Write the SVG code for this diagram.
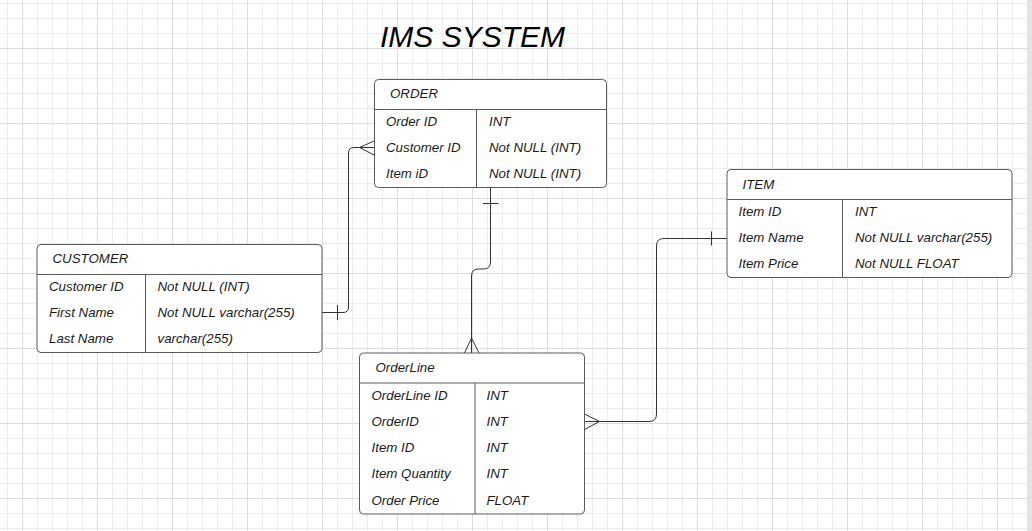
<svg xmlns="http://www.w3.org/2000/svg" width="1032" height="531" viewBox="0 0 1032 531">
  <defs>
    <pattern id="grid" patternUnits="userSpaceOnUse" x="22" y="48" width="75" height="75">
      <rect x="0" y="0" width="75" height="75" fill="#ffffff"/>
      <g fill="#ececec">
        <rect x="15" y="0" width="1" height="75"/>
        <rect x="30" y="0" width="1" height="75"/>
        <rect x="45" y="0" width="1" height="75"/>
        <rect x="60" y="0" width="1" height="75"/>
        <rect x="0" y="15" width="75" height="1"/>
        <rect x="0" y="30" width="75" height="1"/>
        <rect x="0" y="45" width="75" height="1"/>
        <rect x="0" y="60" width="75" height="1"/>
      </g>
      <g fill="#dddddd">
        <rect x="0" y="0" width="1" height="75"/>
        <rect x="0" y="0" width="75" height="1"/>
      </g>
    </pattern>
  </defs>
  <style>
    .box { fill: #ffffff; stroke: #5a5a5a; stroke-width: 1; }
    .div { stroke: #5a5a5a; stroke-width: 1; fill: none; }
    .t { font-family: "Liberation Sans", Arial, sans-serif; font-style: italic; font-size: 13.3px; fill: #1a1a1a; }
    .title { font-family: "Liberation Sans", Arial, sans-serif; font-style: italic; font-size: 30px; fill: #000000; }
    .conn { stroke: #333333; stroke-width: 1; fill: none; }
  </style>
  <rect x="0" y="0" width="1032" height="531" fill="url(#grid)"/>
  <rect x="1027" y="0" width="5" height="531" fill="#e4e4e4"/>

  <text class="title" x="380" y="46.5">IMS SYSTEM</text>

  <g id="connectors">
    <!-- ORDER - CUSTOMER -->
    <path class="conn" d="M 322 312.5 H 343 Q 348.5 312.5 348.5 307 V 153 Q 348.5 147.5 354 147.5 H 374.5"/>
    <path class="conn" d="M 374 141 L 359.5 147.5 L 374 155"/>
    <path class="conn" d="M 337.5 305 V 320"/>
    <!-- ORDER - OrderLine -->
    <path class="conn" d="M 490.5 187.5 V 262 Q 490.5 269 483.5 269 H 478.5 Q 471.5 269 471.5 276 V 353"/>
    <path class="conn" d="M 483 203.5 H 498.5"/>
    <path class="conn" d="M 464.5 353 L 471.5 338 L 479 353"/>
    <!-- ITEM - OrderLine -->
    <path class="conn" d="M 727 238.5 H 664 Q 656.5 238.5 656.5 246 V 414 Q 656.5 421.5 649 421.5 H 584.5"/>
    <path class="conn" d="M 711.5 231.5 V 245.5"/>
    <path class="conn" d="M 584.5 414 L 599.5 421.5 L 584.5 429.5"/>
  </g>

  <g id="order">
    <rect class="box" x="374.5" y="79.5" width="232" height="108" rx="4"/>
    <path class="div" d="M 374.5 109.5 H 606.5 M 476.5 109.5 V 187.5"/>
    <text class="t" x="390" y="98">ORDER</text>
    <text class="t" x="386" y="125.5">Order ID</text>
    <text class="t" x="489" y="125.5">INT</text>
    <text class="t" x="386" y="151.5">Customer ID</text>
    <text class="t" x="489" y="151.5">Not NULL (INT)</text>
    <text class="t" x="386" y="177.5">Item iD</text>
    <text class="t" x="489" y="177.5">Not NULL (INT)</text>
  </g>

  <g id="customer">
    <rect class="box" x="37" y="244.5" width="285" height="108" rx="4"/>
    <path class="div" d="M 37 274.5 H 322 M 145.5 274.5 V 352.5"/>
    <text class="t" x="52.5" y="263">CUSTOMER</text>
    <text class="t" x="49" y="290.5">Customer ID</text>
    <text class="t" x="157.5" y="290.5">Not NULL (INT)</text>
    <text class="t" x="49" y="316.5">First Name</text>
    <text class="t" x="157.5" y="316.5">Not NULL varchar(255)</text>
    <text class="t" x="49" y="342.5">Last Name</text>
    <text class="t" x="157.5" y="342.5">varchar(255)</text>
  </g>

  <g id="item">
    <rect class="box" x="727" y="169.5" width="285" height="108" rx="4"/>
    <path class="div" d="M 727 199.5 H 1012 M 842.5 199.5 V 277.5"/>
    <text class="t" x="742.5" y="188.5">ITEM</text>
    <text class="t" x="738.5" y="215.5">Item ID</text>
    <text class="t" x="855" y="215.5">INT</text>
    <text class="t" x="738.5" y="241.5">Item Name</text>
    <text class="t" x="855" y="241.5">Not NULL varchar(255)</text>
    <text class="t" x="738.5" y="267.5">Item Price</text>
    <text class="t" x="855" y="267.5">Not NULL FLOAT</text>
  </g>

  <g id="orderline">
    <rect class="box" x="359.5" y="353" width="225" height="161" rx="4"/>
    <path class="div" d="M 359.5 383 H 584.5 M 475 383 V 514"/>
    <text class="t" x="375.5" y="372">OrderLine</text>
    <text class="t" x="371.5" y="400">OrderLine ID</text>
    <text class="t" x="486.5" y="400">INT</text>
    <text class="t" x="371.5" y="426">OrderID</text>
    <text class="t" x="486.5" y="426">INT</text>
    <text class="t" x="371.5" y="452">Item ID</text>
    <text class="t" x="486.5" y="452">INT</text>
    <text class="t" x="371.5" y="478">Item Quantity</text>
    <text class="t" x="486.5" y="478">INT</text>
    <text class="t" x="371.5" y="504.5">Order Price</text>
    <text class="t" x="486.5" y="504.5">FLOAT</text>
  </g>
</svg>
